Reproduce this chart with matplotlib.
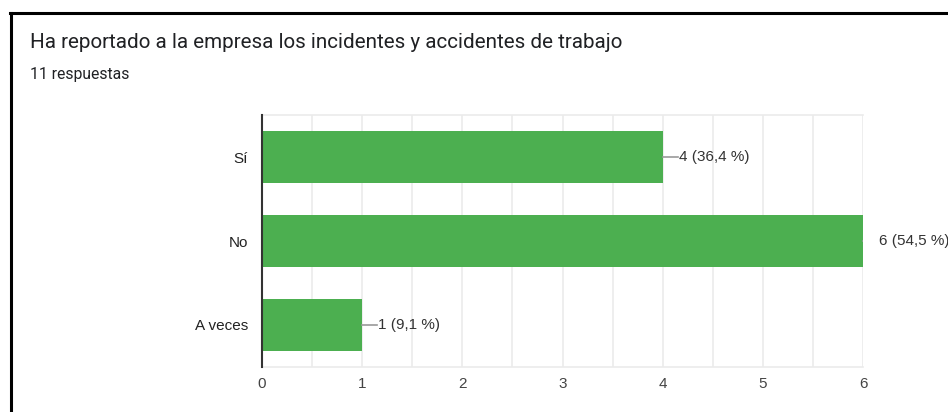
import numpy as np
import matplotlib.pyplot as plt

# chart data
categories = ["Sí", "No", "A veces"]
counts = [4, 6, 1]
value_labels = ["4 (36,4 %)", "6 (54,5 %)", "1 (9,1 %)"]
x_ticks = [0, 1, 2, 3, 4, 5, 6]

title = "Ha reportado a la empresa los incidentes y accidentes de trabajo"
subtitle = "11 respuestas"

BAR_COLOR = "#4caf50"
GRID_COLOR = "#ebebeb"

fig = plt.figure(figsize=(9.48, 4.12), dpi=100)

# frame of the screenshot (top and left edges only)
fig.add_artist(plt.Line2D([10 / 948, 1.0], [1 - 13 / 412, 1 - 13 / 412],
                          transform=fig.transFigure, color="black", lw=2.2))
fig.add_artist(plt.Line2D([11 / 948, 11 / 948], [0.0, 1 - 13 / 412],
                          transform=fig.transFigure, color="black", lw=2.2))

fig.text(30 / 948, 1 - 43 / 412, title, family="Roboto", fontsize=14.9,
         color="#202124", va="center", ha="left")
fig.text(30 / 948, 1 - 75 / 412, subtitle, family="Roboto", fontsize=11.3,
         color="#202124", va="center", ha="left")

ax = fig.add_axes([262 / 948, 45 / 412, 601 / 948, 252 / 412])
y = np.arange(len(categories))
ax.barh(y, counts, height=0.62, color=BAR_COLOR, zorder=3)

ax.set_xlim(0, 6)
ax.set_ylim(len(categories) - 0.5, -0.5)
ax.set_xticks(x_ticks)
ax.set_xticks(np.arange(0.5, 6, 1), minor=True)
ax.set_yticks(y)
ax.set_yticklabels(categories)
ax.grid(axis="x", which="both", color=GRID_COLOR, lw=1.2, zorder=0)
ax.tick_params(axis="both", which="both", length=0)
ax.tick_params(axis="y", pad=10, labelsize=11, labelcolor="#222222")
ax.tick_params(axis="x", pad=7, labelsize=11, labelcolor="#444444")
for lab in ax.get_xticklabels() + ax.get_yticklabels():
    lab.set_family("Liberation Sans")

for side in ["top", "right", "bottom"]:
    ax.spines[side].set_color(GRID_COLOR)
    ax.spines[side].set_linewidth(1.2)
ax.spines["right"].set_visible(False)
ax.spines["left"].set_color("#333333")
ax.spines["left"].set_linewidth(1.5)
ax.spines["left"].set_zorder(4)

# leader lines and value labels
for yi, c, lab in zip(y, counts, value_labels):
    ax.plot([c, c + 0.15], [yi, yi], color="#999999", lw=1.2, zorder=4,
            clip_on=True)
    ax.text(c + 0.16, yi, lab, va="center", ha="left", fontsize=11,
            color="#333333", family="Liberation Sans", clip_on=False)

plt.savefig("out.png", dpi=100)
